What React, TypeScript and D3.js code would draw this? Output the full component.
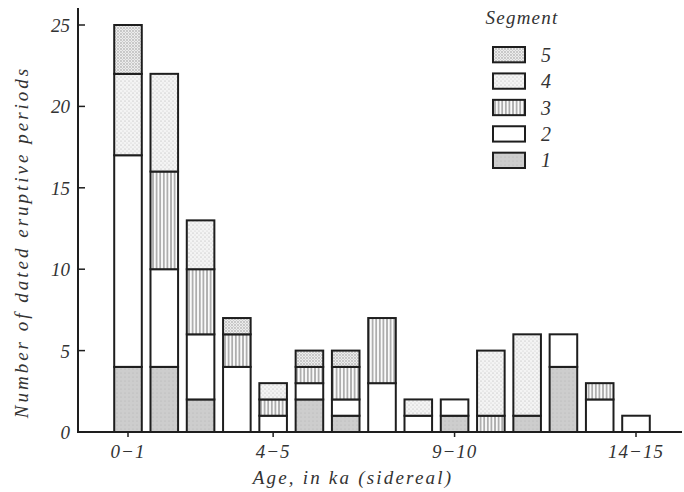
import React, { useEffect, useRef } from 'react';
import * as d3 from 'd3';

const categories = ['0-1', '1-2', '2-3', '3-4', '4-5', '5-6', '6-7', '7-8', '8-9', '9-10', '10-11', '11-12', '12-13', '13-14', '14-15'];
const seg1 = [4, 4, 2, 0, 0, 2, 1, 0, 0, 1, 0, 1, 4, 0, 0];
const seg2 = [13, 6, 4, 4, 1, 1, 1, 3, 1, 1, 0, 0, 2, 2, 1];
const seg3 = [0, 6, 4, 2, 1, 1, 2, 4, 0, 0, 1, 0, 0, 1, 0];
const seg4 = [5, 6, 3, 0, 1, 0, 0, 0, 1, 0, 4, 5, 0, 0, 0];
const seg5 = [3, 0, 0, 1, 0, 1, 1, 0, 0, 0, 0, 0, 0, 0, 0];
const segmentKeys = ['1', '2', '3', '4', '5'];
const tickLabels = ['0-1', '4-5', '9-10', '14-15'];
const yTicks = [0, 5, 10, 15, 20, 25];

const fills: Record<string, string> = {
  '1': 'url(#pat1)',
  '2': '#ffffff',
  '3': 'url(#pat3)',
  '4': 'url(#pat4)',
  '5': 'url(#pat5)',
};

const App: React.FC = () => {
  const svgRef = useRef<SVGSVGElement>(null);
  const width = 684;
  const height = 492;

  useEffect(() => {
    if (!svgRef.current) return;
    const svg = d3.select(svgRef.current);
    svg.selectAll('*').remove();

    const font = '"Liberation Serif", "Times New Roman", serif';
    const ink = '#1e1e1e';

    // patterns
    const defs = svg.append('defs');
    const p1 = defs.append('pattern').attr('id', 'pat1').attr('width', 4).attr('height', 4).attr('patternUnits', 'userSpaceOnUse');
    p1.append('rect').attr('width', 4).attr('height', 4).attr('fill', '#cdcdcd');
    p1.append('circle').attr('cx', 1).attr('cy', 1).attr('r', 0.6).attr('fill', '#b5b5b5');
    const p3 = defs.append('pattern').attr('id', 'pat3').attr('width', 3.6).attr('height', 4).attr('patternUnits', 'userSpaceOnUse');
    p3.append('rect').attr('width', 3.6).attr('height', 4).attr('fill', '#fafafa');
    p3.append('line').attr('x1', 1.8).attr('x2', 1.8).attr('y1', 0).attr('y2', 4).attr('stroke', '#444').attr('stroke-width', 0.8);
    const p4 = defs.append('pattern').attr('id', 'pat4').attr('width', 4).attr('height', 4).attr('patternUnits', 'userSpaceOnUse');
    p4.append('rect').attr('width', 4).attr('height', 4).attr('fill', '#f4f4f4');
    p4.append('circle').attr('cx', 1).attr('cy', 1).attr('r', 0.55).attr('fill', '#a8a8a8');
    p4.append('circle').attr('cx', 3).attr('cy', 3).attr('r', 0.5).attr('fill', '#c0c0c0');
    const p5 = defs.append('pattern').attr('id', 'pat5').attr('width', 3).attr('height', 3).attr('patternUnits', 'userSpaceOnUse');
    p5.append('rect').attr('width', 3).attr('height', 3).attr('fill', '#ececec');
    p5.append('circle').attr('cx', 1).attr('cy', 1).attr('r', 0.65).attr('fill', '#888');
    p5.append('circle').attr('cx', 2.5).attr('cy', 2.5).attr('r', 0.45).attr('fill', '#aaa');

    const rows = categories.map((c, i) => ({
      cat: c,
      '1': seg1[i], '2': seg2[i], '3': seg3[i], '4': seg4[i], '5': seg5[i],
    }));

    const step = (636 - 128) / (categories.length - 1);
    const xScale = d3.scaleBand()
      .domain(categories)
      .range([128 - step / 2, 636 + step / 2])
      .paddingInner(0.24)
      .paddingOuter(0.12);

    const yScale = d3.scaleLinear().domain([0, 25]).range([432, 25]);

    const stack = d3.stack<any>().keys(segmentKeys);
    const series = stack(rows);

    // bars
    series.forEach(s => {
      svg.append('g')
        .selectAll('rect')
        .data(s.filter(d => d[1] - d[0] > 0))
        .enter().append('rect')
        .attr('x', d => xScale(d.data.cat) || 0)
        .attr('width', xScale.bandwidth())
        .attr('y', d => yScale(d[1]))
        .attr('height', d => yScale(d[0]) - yScale(d[1]))
        .attr('fill', fills[s.key])
        .attr('stroke', ink)
        .attr('stroke-width', 2);
    });

    // axes
    const x0 = 78;
    svg.append('line').attr('x1', x0).attr('x2', x0).attr('y1', 8).attr('y2', yScale(0) + 1)
      .attr('stroke', ink).attr('stroke-width', 2);
    svg.append('line').attr('x1', x0 - 1).attr('x2', 682).attr('y1', yScale(0)).attr('y2', yScale(0))
      .attr('stroke', ink).attr('stroke-width', 2);

    yTicks.forEach(t => {
      svg.append('line').attr('x1', x0).attr('x2', x0 + 7).attr('y1', yScale(t)).attr('y2', yScale(t))
        .attr('stroke', ink).attr('stroke-width', 1.5);
      svg.append('text')
        .attr('x', 70).attr('y', yScale(t) + 7)
        .attr('text-anchor', 'end')
        .style('font-family', font).style('font-style', 'italic').style('font-size', '19px')
        .style('fill', '#333')
        .text(t);
    });

    tickLabels.forEach(t => {
      const cx = (xScale(t) || 0) + xScale.bandwidth() / 2;
      svg.append('line').attr('x1', cx).attr('x2', cx).attr('y1', yScale(0)).attr('y2', yScale(0) + 5)
        .attr('stroke', ink).attr('stroke-width', 1.5);
      svg.append('text')
        .attr('x', cx).attr('y', 458)
        .attr('text-anchor', 'middle')
        .style('font-family', font).style('font-style', 'italic').style('font-size', '19px')
        .style('letter-spacing', '1px')
        .style('fill', '#333')
        .text(t.replace('-', '\u2212'));
    });

    svg.append('text')
      .attr('x', 353).attr('y', 484)
      .attr('text-anchor', 'middle')
      .style('font-family', font).style('font-style', 'italic').style('font-size', '19px')
      .style('letter-spacing', '2.2px')
      .style('fill', '#333')
      .text('Age, in ka (sidereal)');

    svg.append('text')
      .attr('transform', 'translate(28,242) rotate(-90)')
      .attr('text-anchor', 'middle')
      .style('font-family', font).style('font-style', 'italic').style('font-size', '19px')
      .style('letter-spacing', '3px')
      .style('fill', '#333')
      .text('Number of dated eruptive periods');

    // legend
    svg.append('text')
      .attr('x', 522).attr('y', 24)
      .attr('text-anchor', 'middle')
      .style('font-family', font).style('font-style', 'italic').style('font-size', '19px')
      .style('letter-spacing', '1.2px')
      .style('fill', '#333')
      .text('Segment');

    const legendY = d3.scaleBand()
      .domain(['5', '4', '3', '2', '1'])
      .range([47, 168])
      .paddingInner(0.42);

    ['5', '4', '3', '2', '1'].forEach(k => {
      const y = legendY(k) || 0;
      svg.append('rect')
        .attr('x', 493).attr('y', y)
        .attr('width', 32).attr('height', legendY.bandwidth())
        .attr('fill', fills[k])
        .attr('stroke', ink).attr('stroke-width', 2);
      svg.append('text')
        .attr('x', 541).attr('y', y + legendY.bandwidth() / 2 + 7)
        .style('font-family', font).style('font-style', 'italic').style('font-size', '20px')
        .style('fill', '#333')
        .text(k);
    });
  }, []);

  return (
    <div style={{ position: 'absolute', left: 0, top: 0, background: 'white' }}>
      <svg ref={svgRef} width={width} height={height}></svg>
    </div>
  );
};

export default App;
